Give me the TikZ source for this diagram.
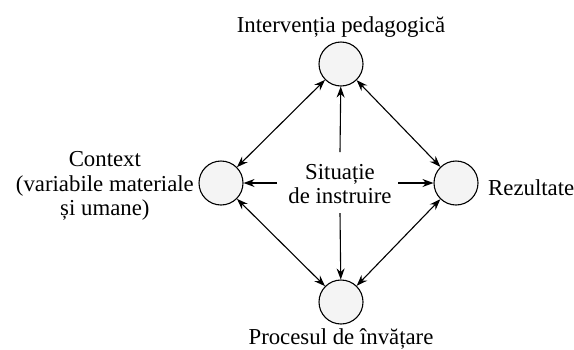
\documentclass[tikz,border=0pt]{standalone}
\usepackage{fontspec}
\setmainfont{Liberation Serif}
\usetikzlibrary{arrows.meta}
\begin{document}
\begin{tikzpicture}[x=1bp,y=-1bp,
  circ/.style={circle,draw=black,line width=1.1bp,fill=gray!9,minimum size=44bp,inner sep=0pt},
  lbl/.style={font=\fontsize{22.8bp}{24.5bp}\selectfont,align=center,inner sep=0pt},
  arr/.style={line width=1.1bp,-{Stealth[length=11bp,width=8bp]}},
  darr/.style={line width=1.1bp,{Stealth[length=11bp,width=8bp]}-{Stealth[length=11bp,width=8bp]}}]
\useasboundingbox (0,0) rectangle (574,349);
\node[circ] (t) at (341,64) {};
\node[circ] (l) at (221,183) {};
\node[circ] (r) at (456,183) {};
\node[circ] (b) at (341,302) {};
\node[lbl] (s) at (340,184) {Situație\\de instruire};
\coordinate (sn) at (340,152);
\coordinate (ss) at (340,213);
\coordinate (sw) at (277,183);
\coordinate (se) at (398,183);
\node[lbl,anchor=base] (tl) at (341,32) {Intervenția pedagogică};
\node[lbl,anchor=base] (bl) at (341,344) {Procesul de învățare};
\node[lbl,anchor=base west] (rl) at (488,195) {Rezultate};
\node[lbl,anchor=east] (ll) at (194,186) {Context\\(variabile materiale\\și umane)};
\draw[arr] (sn) -- (t);
\draw[arr] (ss) -- (b);
\draw[arr] (sw) -- (l);
\draw[arr] (se) -- (r);
\draw[darr] (l) -- (t);
\draw[darr] (t) -- (r);
\draw[darr] (l) -- (b);
\draw[darr] (b) -- (r);
\end{tikzpicture}
\end{document}
